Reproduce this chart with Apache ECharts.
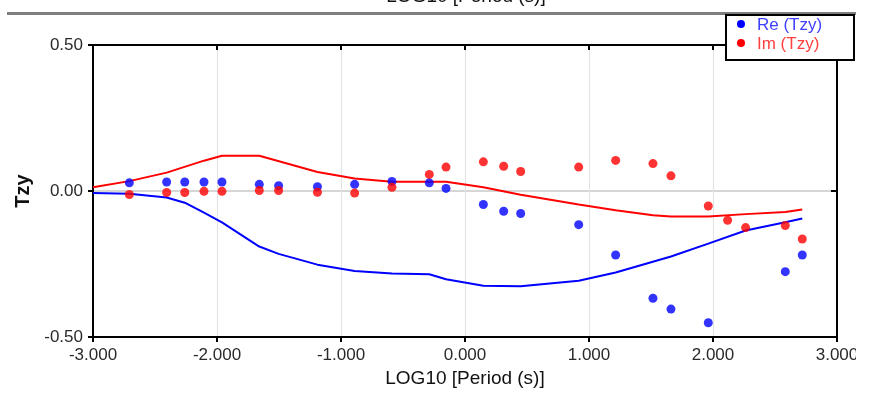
<!DOCTYPE html>
<html>
<head>
<meta charset="utf-8">
<script src="https://cdn.jsdelivr.net/npm/echarts@6/dist/echarts.min.js"></script>
<style>
html,body{margin:0;padding:0;background:#fff;overflow:hidden;}
#c{position:fixed;left:0;top:0;width:869px;height:393px;}
</style>
</head>
<body>
<div id="c"></div>
<script>
// Observed data (LOG10 period vs Tzy)
const rePeriods = [-2.707,-2.406,-2.26,-2.105,-1.96,-1.659,-1.503,-1.19,-0.89,-0.589,-0.288,-0.153,0.148,0.312,0.449,0.917,1.215,1.516,1.661,1.962,2.583,2.72];
const reValues  = [0.028,0.031,0.031,0.031,0.031,0.023,0.018,0.015,0.023,0.033,0.028,0.009,-0.046,-0.069,-0.077,-0.115,-0.219,-0.367,-0.404,-0.451,-0.276,-0.219];

const imPeriods = [-2.707,-2.406,-2.26,-2.105,-1.96,-1.659,-1.503,-1.19,-0.89,-0.589,-0.288,-0.153,0.148,0.312,0.449,0.917,1.215,1.516,1.661,1.962,2.118,2.263,2.583,2.72];
const imValues  = [-0.012,-0.005,-0.005,-0.001,-0.001,0.002,0.002,-0.004,-0.007,0.013,0.057,0.082,0.100,0.085,0.067,0.082,0.105,0.094,0.052,-0.051,-0.100,-0.125,-0.118,-0.164];

// Model curves
const reModelPeriods = [-3.0,-2.707,-2.406,-2.26,-2.105,-1.96,-1.659,-1.503,-1.19,-0.89,-0.589,-0.288,-0.153,0.148,0.449,0.917,1.215,1.661,1.962,2.263,2.583,2.72];
const reModelValues  = [-0.007,-0.009,-0.022,-0.040,-0.074,-0.107,-0.190,-0.215,-0.252,-0.274,-0.282,-0.285,-0.302,-0.324,-0.326,-0.307,-0.279,-0.224,-0.180,-0.135,-0.107,-0.094];

const imModelPeriods = [-3.0,-2.707,-2.406,-2.105,-1.96,-1.659,-1.19,-0.89,-0.589,-0.153,0.148,0.449,0.917,1.215,1.516,1.661,1.962,2.263,2.583,2.72];
const imModelValues  = [0.013,0.034,0.063,0.104,0.121,0.121,0.065,0.043,0.032,0.032,0.013,-0.013,-0.046,-0.066,-0.083,-0.087,-0.087,-0.079,-0.072,-0.063];

const xTicks = [-3,-2,-1,0,1,2,3];
const yTicks = [-0.5,0,0.5];
const xTitle = 'LOG10 [Period (s)]';
const yTitle = 'Tzy';
const legendNames = ['Re (Tzy)','Im (Tzy)'];

const zip = (a,b) => a.map((v,i)=>[v,b[i]]);

const chart = echarts.init(document.getElementById('c'), null, {renderer:'canvas',width:869,height:393});
const font = '"Liberation Sans", Arial, sans-serif';
const BLUE = '#0000ff', RED = '#ff0000';

chart.setOption({
  animation:false,
  backgroundColor:'#ffffff',
  grid:{left:93,right:32,top:45,bottom:49,containLabel:false},
  xAxis:[{
    type:'value',min:xTicks[0],max:xTicks[xTicks.length-1],interval:1,
    name:xTitle,nameLocation:'middle',nameGap:28,
    nameTextStyle:{fontFamily:font,fontSize:19,color:'#111'},
    axisLine:{show:true,onZero:false,lineStyle:{color:'#000',width:2}},
    axisTick:{show:true,inside:false,length:5,lineStyle:{color:'#000',width:2}},
    axisLabel:{margin:10,fontFamily:font,fontSize:17,color:'#2a2a2a',formatter:v=>v.toFixed(3)},
    splitLine:{show:true,lineStyle:{color:'#e2e2e2',width:1}}
  },{
    type:'value',position:'top',min:xTicks[0],max:xTicks[xTicks.length-1],interval:1,
    axisLine:{show:true,onZero:false,lineStyle:{color:'#000',width:2}},
    axisTick:{show:true,inside:true,length:5,lineStyle:{color:'#000',width:2}},
    axisLabel:{show:false},splitLine:{show:false}
  }],
  yAxis:[{
    type:'value',min:yTicks[0],max:yTicks[yTicks.length-1],interval:0.5,
    name:yTitle,nameLocation:'middle',nameGap:55,nameRotate:90,
    nameTextStyle:{fontFamily:font,fontSize:20,fontWeight:'bold',color:'#111'},
    axisLine:{show:true,onZero:false,lineStyle:{color:'#000',width:2}},
    axisTick:{show:true,inside:false,length:5,lineStyle:{color:'#000',width:2}},
    axisLabel:{margin:10,fontFamily:font,fontSize:17,color:'#2a2a2a',formatter:v=>v.toFixed(2)},
    splitLine:{show:true,lineStyle:{color:'#d6d6d6',width:2}}
  },{
    type:'value',position:'right',min:yTicks[0],max:yTicks[yTicks.length-1],interval:0.5,
    axisLine:{show:true,onZero:false,lineStyle:{color:'#000',width:2}},
    axisTick:{show:true,inside:true,length:6,lineStyle:{color:'#000',width:2}},
    axisLabel:{show:false},splitLine:{show:false}
  }],
  series:[
    {name:'Re model',type:'line',data:zip(reModelPeriods,reModelValues),symbol:'none',
     lineStyle:{color:BLUE,width:2},itemStyle:{color:BLUE},z:2},
    {name:'Im model',type:'line',data:zip(imModelPeriods,imModelValues),symbol:'none',
     lineStyle:{color:RED,width:2},itemStyle:{color:RED},z:2},
    {name:legendNames[0],type:'scatter',data:zip(rePeriods,reValues),symbol:'circle',symbolSize:9,
     itemStyle:{color:BLUE},z:3},
    {name:legendNames[1],type:'scatter',data:zip(imPeriods,imValues),symbol:'circle',symbolSize:9,
     itemStyle:{color:RED},z:4}
  ],
  graphic:[
    {type:'line',shape:{x1:7,y1:13.5,x2:869,y2:13.5},style:{stroke:'#7f7f7f',lineWidth:3},z:10},
    {type:'text',x:466,y:-3,style:{text:xTitle,font:'19px "Liberation Sans", Arial, sans-serif',fill:'#111',align:'center',verticalAlign:'middle'},z:10},
    {type:'rect',shape:{x:726,y:15,width:128,height:45},style:{fill:'#fff',stroke:'#000',lineWidth:2},z:11},
    {type:'circle',shape:{cx:741,cy:24,r:4},style:{fill:BLUE},z:12},
    {type:'circle',shape:{cx:741,cy:43,r:4},style:{fill:RED},z:12},
    {type:'text',x:757,y:25,style:{text:legendNames[0],font:'17px "Liberation Sans", Arial, sans-serif',fill:'#4040ff',verticalAlign:'middle'},z:12},
    {type:'text',x:757,y:44,style:{text:legendNames[1],font:'17px "Liberation Sans", Arial, sans-serif',fill:'#ff4040',verticalAlign:'middle'},z:12},
    {type:'rect',shape:{x:856,y:0,width:20,height:393},style:{fill:'#fff'},z:20}
  ]
});
</script>
</body>
</html>
